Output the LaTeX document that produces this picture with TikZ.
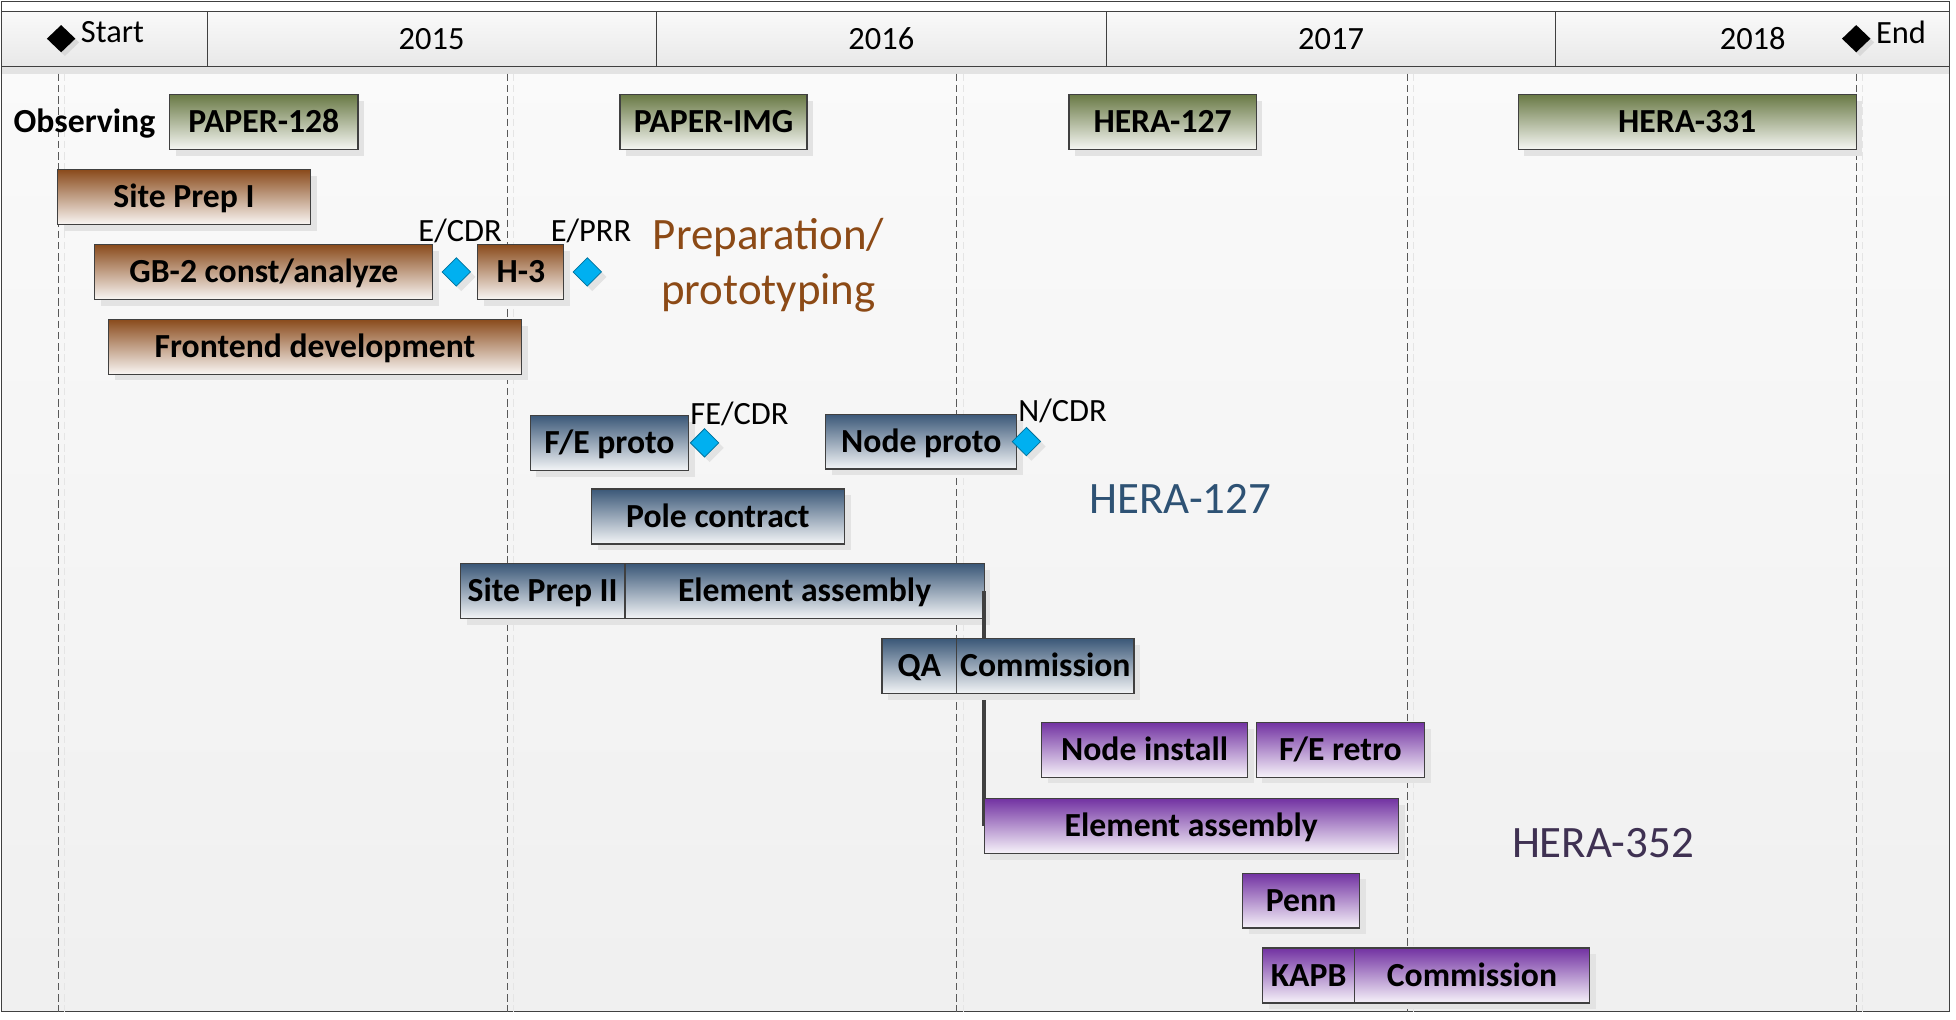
\documentclass[tikz,border=0pt]{standalone}
\usepackage{fontspec}
\setmainfont{Carlito}
\usetikzlibrary{positioning,shapes.geometric,shadows}
\definecolor{HeraGreen}{HTML}{6A7A46}
\definecolor{HeraBrown}{HTML}{8A4B1C}
\definecolor{HeraBlue}{HTML}{3B5878}
\definecolor{HeraPurple}{HTML}{7232A2}
\definecolor{HeraCyan}{HTML}{00B0F0}
\definecolor{HeraInk}{HTML}{404040}
\definecolor{PrepText}{HTML}{8C4A16}
\definecolor{BlueText}{HTML}{2E5274}
\definecolor{PurpleText}{HTML}{3F3152}
\tikzset{
  bar/.style={draw=HeraInk,line width=1pt,anchor=west,minimum height=44pt,
    inner sep=2pt,outer sep=0pt,text height=17pt,text depth=0pt,
    font=\fontsize{27}{29}\selectfont\bfseries,
    drop shadow={shadow xshift=5pt,shadow yshift=-5pt,fill=black!11,opacity=1}},
  greenbar/.style={bar,top color=HeraGreen,bottom color=HeraGreen!6},
  brownbar/.style={bar,top color=HeraBrown,bottom color=HeraBrown!5},
  bluebar/.style={bar,top color=HeraBlue,bottom color=HeraBlue!6},
  purplebar/.style={bar,top color=HeraPurple,bottom color=HeraPurple!6},
  milestone/.style={diamond,fill=HeraCyan,draw=HeraCyan!65!black,line width=0.6pt,
    minimum width=23pt,minimum height=23pt,inner sep=0pt,
    drop shadow={shadow xshift=4pt,shadow yshift=-4pt,fill=black!11,opacity=1}},
  enddia/.style={diamond,fill=black,minimum width=23pt,minimum height=22pt,inner sep=0pt,
    drop shadow={shadow xshift=3pt,shadow yshift=-3pt,fill=black!15,opacity=1}},
  mslabel/.style={font=\fontsize{26}{28}\selectfont,inner sep=2pt},
  yearcell/.style={draw=HeraInk,line width=0.8pt,anchor=west,minimum height=44pt,
    outer sep=0pt,top color=black!2,bottom color=black!9,font=\fontsize{26}{28}\selectfont},
  phaselabel/.style={align=center,font=\fontsize{36}{44}\selectfont},
  gridline/.style={draw=black!65,line width=0.8pt,dash pattern=on 6pt off 3pt},
  gridshade/.style={draw=black!10,line width=0.8pt,dash pattern=on 6pt off 3pt},
  link/.style={draw=HeraInk,line width=3pt}
}
\begin{document}
\begin{tikzpicture}[x=1pt,y=-1pt]
  \useasboundingbox (0,0) rectangle (1568,817);
  % background and frame
  \fill[white] (0,0) rectangle (1568,817);
  \fill[top color=black!2,bottom color=black!6] (1,53) rectangle (1563,811);
  \fill[black!11] (1,53) rectangle (1563,59);
  \draw[HeraInk,line width=1pt] (1,1) rectangle (1563,811);

  % years
  \node[yearcell,minimum width=165pt] (startcell) at (1,31) {};
  \node[yearcell,minimum width=360pt,right=0pt of startcell] (y2015) {2015};
  \node[yearcell,minimum width=361pt,right=0pt of y2015] (y2016) {2016};
  \node[yearcell,minimum width=360pt,right=0pt of y2016] (y2017) {2017};
  \node[yearcell,minimum width=316pt,right=0pt of y2017] (y2018) {2018};

  \foreach \gx in {47,407,767,1128,1488}{
    \draw[gridshade] (\gx+5,59) -- (\gx+5,811);
    \draw[gridline] (\gx,59) -- (\gx,811);
  }

  \node[enddia] (startdia) at (49,31) {};
  \node[mslabel,right=2pt of startdia,yshift=5pt] (startlbl) {Start};
  \node[enddia] (enddia) at (1488,31) {};
  \node[mslabel,right=2pt of enddia,yshift=5pt] (endlbl) {End};

  % observing
  \node[greenbar,minimum width=151pt] (paper128) at (136,98) {PAPER-128};
  \node[greenbar,minimum width=150pt] (paperimg) at (497,98) {PAPER-IMG};
  \node[greenbar,minimum width=150pt] (hera127) at (857,98) {HERA-127};
  \node[greenbar,minimum width=271pt] (hera331) at (1217,98) {HERA-331};
  \node[font=\fontsize{27}{29}\selectfont\bfseries,text height=17pt,text depth=0pt,
    left=8pt of paper128] (obslbl) {Observing};

  % preparation
  \node[brownbar,minimum width=203pt] (siteprepI) at (46,158) {Site Prep I};
  \node[brownbar,minimum width=271pt] (gbtwo) at (76,218) {GB-2 const/analyze};
  \node[milestone,right=7pt of gbtwo] (ecdr) {};
  \node[brownbar,minimum width=69pt] (hthree) at (383,218) {H-3};
  \node[milestone,right=7pt of hthree] (eprr) {};
  \node[brownbar,minimum width=331pt] (frontend) at (87,278) {Frontend development};
  \node[mslabel,above=9pt of ecdr,xshift=3pt] (ecdrlbl) {E/CDR};
  \node[mslabel,above=9pt of eprr,xshift=3pt] (eprrlbl) {E/PRR};

  % HERA-127
  \node[bluebar,minimum width=127pt] (feproto) at (425,355) {F/E proto};
  \node[milestone,right=1pt of feproto] (fecdr) {};
  \node[bluebar,minimum width=153pt] (nodeproto) at (662,354) {Node proto};
  \node[milestone,right=-4pt of nodeproto] (ncdr) {};
  \node[mslabel,above=0pt of fecdr,xshift=28pt] (fecdrlbl) {FE/CDR};
  \node[mslabel,above=1pt of ncdr,xshift=29pt] (ncdrlbl) {N/CDR};
  \node[bluebar,minimum width=203pt] (pole) at (474,414) {Pole contract};
  \node[bluebar,minimum width=132pt] (siteprepII) at (369,474) {Site Prep II};
  \node[bluebar,minimum width=288pt,right=0pt of siteprepII] (elemblue) {Element assembly};
  \draw[link] (elemblue.east) -- (789,662);
  \node[bluebar,minimum width=60pt] (qa) at (707,534) {QA};
  \node[bluebar,minimum width=142pt,right=0pt of qa] (commblue) {Commission};

  % HERA-352
  \node[purplebar,minimum width=165pt] (nodeinstall) at (835,601) {Node install};
  \node[purplebar,minimum width=135pt] (feretro) at (1007,601) {F/E retro};
  \node[purplebar,minimum width=332pt] (elempurple) at (789,662) {Element assembly};
  \node[purplebar,minimum width=94pt] (penn) at (996,722) {Penn};
  \node[purplebar,minimum width=74pt] (kapb) at (1012,782) {KAPB};
  \node[purplebar,minimum width=188pt,right=0pt of kapb] (commpurple) {Commission};

  \node[phaselabel,text=PrepText] (preplbl) at (616,213) {Preparation/\\prototyping};
  \node[phaselabel,text=BlueText] (bluelbl) at (946,400) {HERA-127};
  \node[phaselabel,text=PurpleText] (purplelbl) at (1285,676) {HERA-352};
\end{tikzpicture}
\end{document}
